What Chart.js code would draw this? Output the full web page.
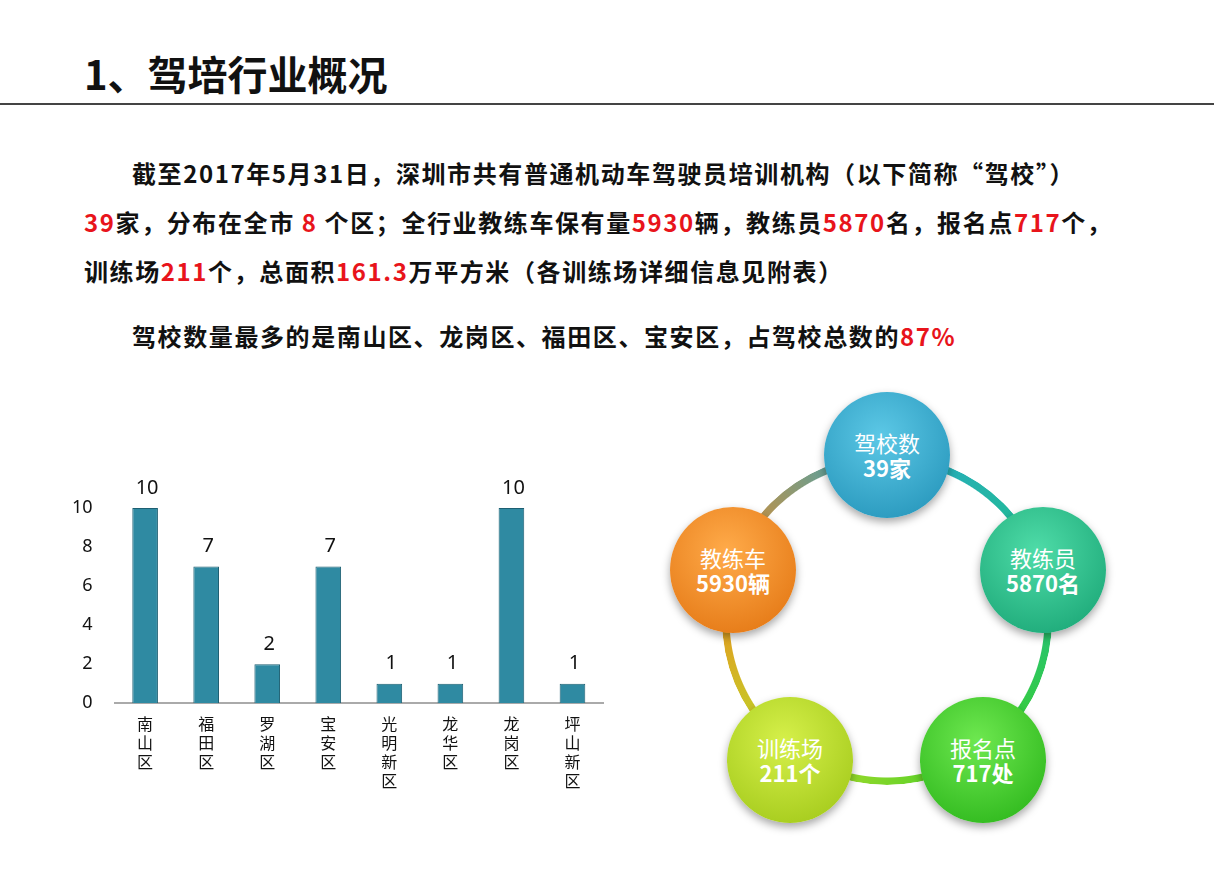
<!DOCTYPE html>
<html>
<head>
<meta charset="utf-8">
<script src="https://cdn.jsdelivr.net/npm/chart.js@4"></script>
<style>
  body { margin: 0; width: 1214px; height: 877px; background: #fff; position: relative; overflow: hidden;
         font-family: "Noto Sans CJK SC", "Noto Sans", sans-serif; color: #111; }
  .titulo { position: absolute; left: 84px; top: 44px; font-size: 40px; font-weight: bold; }
  .linha { position: absolute; left: 0; top: 103px; width: 1214px; height: 2px; background: #444; }
  .texto { position: absolute; left: 84px; font-size: 24px; letter-spacing: 1.6px; font-weight: bold; white-space: nowrap; }
  .red { color: #e8141b; }
  #caixa { position: absolute; left: 58px; top: 462px; width: 555px; height: 332px; }
  .anel { position: absolute; left: 722px; top: 455px; width: 330px; height: 330px; border-radius: 50%;
          background: conic-gradient(#2aa8c8 0deg, #1fc08a 72deg, #3ecf2a 144deg, #b8dc2a 216deg, #f08a1e 288deg, #2aa8c8 360deg);
          -webkit-mask: radial-gradient(circle, transparent 157px, #000 158px, #000 165px, transparent 166px); }
  .bola { position: absolute; width: 126px; height: 126px; border-radius: 50%; color: #fff; text-align: center;
          font-size: 22px; line-height: 25px; display: flex; flex-direction: column; justify-content: center;
          box-shadow: 0 4px 8px rgba(0,0,0,0.35); }
  .bola b { font-size: 22px; }
</style>
</head>
<body>
<div class="titulo">1、驾培行业概况</div>
<div class="linha"></div>
<div class="texto" style="left:132px; top:155px;">截至2017年5月31日，深圳市共有普通机动车驾驶员培训机构（以下简称“驾校”）</div>
<div class="texto" style="top:204px;"><span class="red">39</span>家，分布在全市 <span class="red">8</span> 个区；全行业教练车保有量<span class="red">5930</span>辆，教练员<span class="red">5870</span>名，报名点<span class="red">717</span>个，</div>
<div class="texto" style="top:253px;">训练场<span class="red">211</span>个，总面积<span class="red">161.3</span>万平方米（各训练场详细信息见附表）</div>
<div class="texto" style="left:132px; top:318px;">驾校数量最多的是南山区、龙岗区、福田区、宝安区，占驾校总数的<span class="red">87%</span></div>

<div id="caixa"><canvas id="graficoDistritos"></canvas></div>

<div class="anel"></div>
<div class="bola" style="left:824px; top:392px; background: radial-gradient(circle at 45% 35%, #5cc8e6, #1f8fb5);">驾校数<b>39家</b></div>
<div class="bola" style="left:980px; top:507px; background: radial-gradient(circle at 45% 35%, #4fdca8, #14a070);">教练员<b>5870名</b></div>
<div class="bola" style="left:920px; top:697px; background: radial-gradient(circle at 45% 35%, #6ee850, #24b014);">报名点<b>717处</b></div>
<div class="bola" style="left:727px; top:697px; background: radial-gradient(circle at 45% 35%, #d6f04a, #9cc414);">训练场<b>211个</b></div>
<div class="bola" style="left:670px; top:507px; background: radial-gradient(circle at 45% 35%, #ffab4a, #e0700c);">教练车<b>5930辆</b></div>

<script>
const distritos = ["南山区", "福田区", "罗湖区", "宝安区", "光明新区", "龙华区", "龙岗区", "坪山新区"];
const numeroEscolas = [10, 7, 2, 7, 1, 1, 10, 1];
const ticksY = [0, 2, 4, 6, 8, 10];

const rotulosValor = {
    id: "rotulosValor",
    afterDatasetsDraw(chart) {
        const ctx = chart.ctx;
        const meta = chart.getDatasetMeta(0);
        ctx.save();
        ctx.font = "20px 'Noto Sans', sans-serif";
        ctx.fillStyle = "#111";
        ctx.textAlign = "center";
        ctx.textBaseline = "bottom";
        meta.data.forEach((barra, i) => {
            ctx.fillText(numeroEscolas[i], barra.x + 2, barra.y - 10);
        });
        ctx.restore();
    }
};

new Chart(document.getElementById("graficoDistritos"), {
    type: "bar",
    data: {
        labels: distritos.map((d) => d.split("")),
        datasets: [{
            data: numeroEscolas,
            backgroundColor: "#2f8aa2",
            borderColor: "#1d5f72",
            borderWidth: 1,
            barPercentage: 0.42,
            categoryPercentage: 1
        }]
    },
    options: {
        responsive: true,
        maintainAspectRatio: false,
        animation: false,
        layout: { padding: { top: 46, right: 10 } },
        plugins: { legend: { display: false }, tooltip: { enabled: false } },
        scales: {
            y: {
                min: 0, max: 10,
                afterBuildTicks: (eixo) => { eixo.ticks = ticksY.map((v) => ({ value: v })); },
                grid: { display: false },
                border: { display: false },
                ticks: { color: "#111", font: { size: 18, family: "Noto Sans" }, padding: 14 }
            },
            x: {
                grid: { display: false },
                border: { color: "#aaa", width: 2 },
                ticks: { color: "#111", font: { size: 16, family: "Noto Sans CJK SC" }, maxRotation: 0, autoSkip: false }
            }
        }
    },
    plugins: [rotulosValor]
});
</script>
</body>
</html>
